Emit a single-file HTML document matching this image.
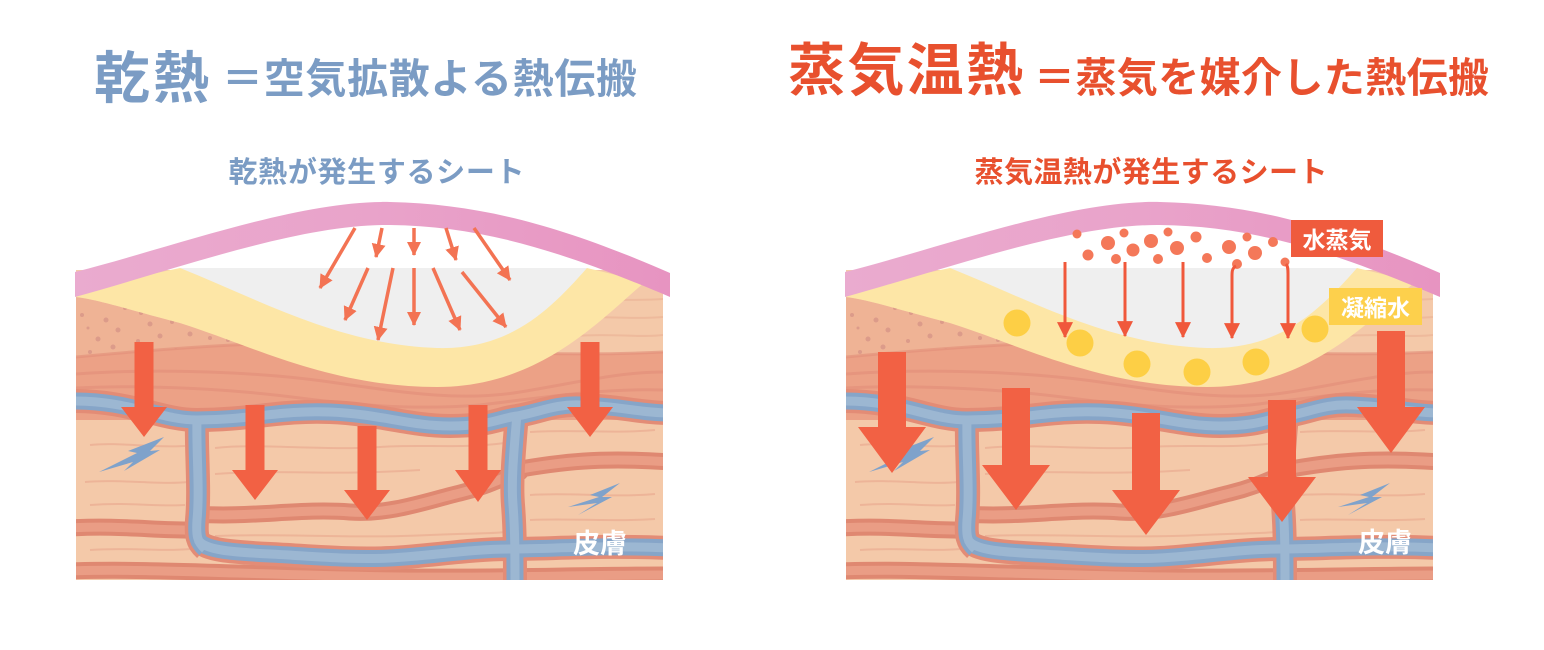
<!DOCTYPE html>
<html><head><meta charset="utf-8">
<style>
html,body{margin:0;padding:0;background:#fff;}
svg{display:block;}
text{font-family:"Liberation Sans","Noto Sans CJK JP",sans-serif;font-weight:700;}
</style></head>
<body>
<svg width="1544" height="650" viewBox="0 0 1544 650" xmlns="http://www.w3.org/2000/svg">
<defs>
  <linearGradient id="pk" x1="0" y1="0" x2="1" y2="0">
    <stop offset="0" stop-color="#eaabcf"/>
    <stop offset="0.5" stop-color="#e9a3ca"/>
    <stop offset="1" stop-color="#e794c1"/>
  </linearGradient>
  <marker id="ah" viewBox="0 0 14 14" refX="13" refY="7" markerWidth="14" markerHeight="14" markerUnits="userSpaceOnUse" orient="auto">
    <path d="M0,0 L14,7 L0,14 Z" fill="#f37353"/>
  </marker>
  <marker id="ah2" viewBox="0 0 14 14" refX="13" refY="7" markerWidth="16" markerHeight="16" markerUnits="userSpaceOnUse" orient="auto">
    <path d="M0,0 L14,7 L0,14 Z" fill="#f0583b"/>
  </marker>
  <clipPath id="skinclip"><rect x="76" y="260" width="587" height="320"/></clipPath>

  <g id="skin">
    <g clip-path="url(#skinclip)">
      <!-- base dermis -->
      <rect x="76" y="270" width="587" height="310" fill="#f4c9a9"/>
      <!-- upper right faint lines -->
      <g fill="none" stroke="#ecb597" stroke-width="2" opacity="0.7">
        <path d="M545 300 C580 297,620 302,663 299"/>
        <path d="M560 318 C600 315,630 320,663 317"/>
        <path d="M575 336 C610 333,640 338,663 335"/>
      </g>
      <!-- speckled area -->
      <path d="M76 297 C100 300,130 310,180 323 C215 334,245 342,285 352 L280 362 L76 362 Z" fill="#efb395"/>
      <g fill="#dc9b8a">
        <circle cx="82" cy="315" r="2"/><circle cx="106" cy="320" r="2.5"/><circle cx="125" cy="308" r="2"/>
        <circle cx="118" cy="330" r="2.5"/><circle cx="141" cy="313" r="2"/><circle cx="150" cy="324" r="2.5"/>
        <circle cx="98" cy="339" r="2.5"/><circle cx="90" cy="352" r="2"/><circle cx="113" cy="347" r="2.5"/>
        <circle cx="138" cy="341" r="2"/><circle cx="160" cy="336" r="2.5"/><circle cx="172" cy="322" r="2"/>
        <circle cx="190" cy="334" r="2.5"/><circle cx="200" cy="320" r="2"/><circle cx="210" cy="338" r="2"/>
        <circle cx="176" cy="350" r="2"/><circle cx="88" cy="328" r="1.5"/><circle cx="228" cy="340" r="2"/>
        <circle cx="240" cy="332" r="1.5"/><circle cx="128" cy="355" r="1.5"/>
      </g>
      <!-- epidermis band -->
      <path d="M76 357 C150 350,220 345,276 343 C400 340,500 360,663 352 L663 420 L76 420 Z" fill="#eca186"/>
      <g fill="none" stroke="#e3907a" stroke-width="3" opacity="0.65">
        <path d="M76 357 C150 350,220 345,276 343 C400 340,500 360,663 352"/>
        <path d="M76 374 C160 368,260 372,330 382 C400 392,460 402,520 392 C580 382,620 372,663 372"/>
        <path d="M76 388 C150 384,240 390,300 398 C360 406,420 410,480 405 C540 398,600 388,663 390"/>
      </g>
      <!-- lower dermis stripes -->
      <g fill="none" stroke-linecap="round">
        <g stroke="#df8871" stroke-width="17">
          <path d="M70 528 C120 525,160 531,200 530"/>
          <path d="M195 514 C250 518,300 508,350 512 C390 515,430 500,460 493 C490 486,505 476,520 472"/>
          <path d="M515 470 C560 462,600 457,670 462"/>
          <path d="M70 571 C150 568,250 575,400 577 C500 578,580 575,670 575"/>
        </g>
        <g stroke="#ea9d85" stroke-width="9">
          <path d="M70 528 C120 525,160 531,200 530"/>
          <path d="M195 514 C250 518,300 508,350 512 C390 515,430 500,460 493 C490 486,505 476,520 472"/>
          <path d="M515 470 C560 462,600 457,670 462"/>
          <path d="M70 571 C150 568,250 575,400 577 C500 578,580 575,670 575"/>
        </g>
      </g>
      <!-- faint lines -->
      <g fill="none" stroke="#ebae93" stroke-width="2" opacity="0.75">
        <path d="M90 445 C120 442,150 448,185 446"/>
        <path d="M85 482 C120 479,160 485,188 482"/>
        <path d="M90 505 C130 502,160 507,185 505"/>
        <path d="M90 550 C130 547,160 552,190 549"/>
        <path d="M215 448 C260 443,320 451,380 447 C420 444,460 449,505 443"/>
        <path d="M215 474 C280 469,330 476,420 470"/>
        <path d="M215 536 C280 533,350 539,430 535 C470 533,490 534,505 532"/>
        <path d="M530 432 C570 429,610 434,655 430"/>
        <path d="M530 495 C570 492,610 498,655 494"/>
        <path d="M530 520 C570 518,610 522,655 519"/>
      </g>
      <!-- vessels -->
      <g fill="none">
        <g stroke="#e38c76" stroke-width="24">
          <path d="M70 401 C130 400,160 420,197 420 C250 420,280 410,330 412 C380 414,410 426,450 426 C490 426,500 418,517 416 C540 412,555 404,580 405 C620 406,640 413,670 413"/>
          <path d="M197 418 C196 450,200 490,197 520 C196 535,197 542,205 549"/>
          <path d="M198 540 C205 550,230 552,270 554 C310 556,350 560,390 558 C430 556,470 549,510 549 C550 549,600 545,670 548"/>
          <path d="M517 414 C514 450,511 480,513 505 C515 530,515 555,515 590"/>
        </g>
        <g stroke="#86a5c8" stroke-width="17">
          <path d="M70 401 C130 400,160 420,197 420 C250 420,280 410,330 412 C380 414,410 426,450 426 C490 426,500 418,517 416 C540 412,555 404,580 405 C620 406,640 413,670 413"/>
          <path d="M197 418 C196 450,200 490,197 520 C196 535,197 542,205 549"/>
          <path d="M198 540 C205 550,230 552,270 554 C310 556,350 560,390 558 C430 556,470 549,510 549 C550 549,600 545,670 548"/>
          <path d="M517 414 C514 450,511 480,513 505 C515 530,515 555,515 590"/>
        </g>
        <g stroke="#9cb7d2" stroke-width="9">
          <path d="M70 401 C130 400,160 420,197 420 C250 420,280 410,330 412 C380 414,410 426,450 426 C490 426,500 418,517 416 C540 412,555 404,580 405 C620 406,640 413,670 413"/>
          <path d="M197 418 C196 450,200 490,197 520 C196 535,197 542,205 549"/>
          <path d="M198 540 C205 550,230 552,270 554 C310 556,350 560,390 558 C430 556,470 549,510 549 C550 549,600 545,670 548"/>
          <path d="M517 414 C514 450,511 480,513 505 C515 530,515 555,515 590"/>
        </g>
      </g>
      <!-- lightning -->
      <path d="M164 437 L128 451 L137 453 L99 472 L133 462 L124 471 L160 450 L150 451 Z" fill="#7fa2cb"/>
      <path d="M620 483 L590 495 L599 497 L568 507 L597 503 L578 515 L612 497 L602 497 Z" fill="#7fa2cb"/>
      <!-- yellow band -->
      <path d="M76 290 L180 268 L587 268 L645 282 C600 320,540 387,437 387 C330 387,250 345,180 323 C130 310,100 300,76 297 Z" fill="#fde6a6"/>
      <!-- grey pocket -->
      <path d="M180 268 L587 268 C550 310,510 350,437 348 C340 345,260 300,180 268 Z" fill="#efefef"/>
    </g>
    <!-- pink sheet -->
    <path d="M75 272 C180 245,300 200,390 202 C480 204,560 225,670 273 L670 297 C560 250,480 226,390 225 C300 224,180 268,75 297 Z" fill="url(#pk)"/>
  </g>
</defs>

<!-- Titles -->
<text x="94" y="98" font-size="56" fill="#7b9cc4" textLength="115" lengthAdjust="spacing">乾熱</text>
<text x="222" y="93" font-size="41" fill="#7b9cc4" textLength="415" lengthAdjust="spacing">＝空気拡散よる熱伝搬</text>
<text x="228.5" y="182" font-size="29" fill="#7b9cc4" textLength="296" lengthAdjust="spacing">乾熱が発生するシート</text>

<text x="788" y="90" font-size="57" fill="#e8502e" textLength="235" lengthAdjust="spacing">蒸気温熱</text>
<text x="1034" y="92" font-size="41" fill="#e8502e" textLength="455" lengthAdjust="spacing">＝蒸気を媒介した熱伝搬</text>
<text x="974.5" y="182" font-size="29" fill="#e8502e" textLength="353" lengthAdjust="spacing">蒸気温熱が発生するシート</text>

<!-- Left panel -->
<use href="#skin"/>
<g stroke="#f37353" stroke-width="3.5" marker-end="url(#ah)" fill="none">
  <line x1="355" y1="228" x2="320" y2="288"/>
  <line x1="382" y1="228" x2="376" y2="257"/>
  <line x1="414" y1="228" x2="414" y2="255"/>
  <line x1="446" y1="228" x2="456" y2="260"/>
  <line x1="474" y1="228" x2="510" y2="280"/>
  <line x1="368" y1="268" x2="345" y2="320"/>
  <line x1="393" y1="268" x2="378" y2="340"/>
  <line x1="414" y1="268" x2="414" y2="325"/>
  <line x1="433" y1="268" x2="460" y2="330"/>
  <line x1="462" y1="272" x2="506" y2="327"/>
</g>
<g fill="#f26144">
  <polygon points="134.5,342 153.5,342 153.5,407 167,407 144,437 121,407 134.5,407"/>
  <polygon points="245.5,405 264.5,405 264.5,470 278,470 255,500 232,470 245.5,470"/>
  <polygon points="357.5,426 376.5,426 376.5,490 390,490 367,520 344,490 357.5,490"/>
  <polygon points="468.5,405 487.5,405 487.5,470 501,470 478,502 455,470 468.5,470"/>
  <polygon points="580.5,342 599.5,342 599.5,407 613,407 590,437 567,407 580.5,407"/>
</g>
<text x="600" y="553" font-size="27" fill="#ffffff" text-anchor="middle">皮膚</text>

<!-- Right panel -->
<use href="#skin" transform="translate(770,0)"/>
<!-- steam dots -->
<g fill="#f47859">
  <circle cx="1077" cy="234" r="4.5"/><circle cx="1088" cy="255" r="5.5"/><circle cx="1108" cy="243" r="7"/>
  <circle cx="1124" cy="233" r="4.5"/><circle cx="1116" cy="259" r="5"/><circle cx="1133" cy="250" r="6.5"/>
  <circle cx="1151" cy="241" r="7"/><circle cx="1158" cy="259" r="5"/><circle cx="1168" cy="232" r="4.5"/>
  <circle cx="1177" cy="248" r="7"/><circle cx="1196" cy="237" r="5.5"/><circle cx="1207" cy="258" r="5"/>
  <circle cx="1229" cy="247" r="7"/><circle cx="1247" cy="237" r="4.5"/><circle cx="1255" cy="253" r="7"/>
  <circle cx="1237" cy="264" r="5"/><circle cx="1273" cy="242" r="5"/><circle cx="1285" cy="262" r="4.5"/>
</g>
<!-- condensed water -->
<g fill="#fdcf45">
  <circle cx="1017" cy="323" r="13.5"/><circle cx="1080" cy="343" r="13.5"/><circle cx="1137" cy="364" r="13.5"/>
  <circle cx="1197" cy="372" r="13.5"/><circle cx="1256" cy="362" r="13.5"/><circle cx="1315" cy="329" r="13.5"/>
</g>
<g stroke="#f0583b" stroke-width="3" marker-end="url(#ah2)" fill="none">
  <line x1="1065" y1="262" x2="1065" y2="337"/>
  <line x1="1125" y1="262" x2="1125" y2="336"/>
  <line x1="1183" y1="262" x2="1183" y2="337"/>
  <path d="M1236 266 C1232 268,1232 272,1232 276 L1232 338"/>
  <path d="M1286 264 C1288 266,1288 270,1288 274 L1288 338"/>
</g>
<g fill="#f26144">
  <polygon points="878,352 906,352 906,427 926,427 892,473 858,427 878,427"/>
  <polygon points="1002,388 1030,388 1030,465 1050,465 1016,510 982,465 1002,465"/>
  <polygon points="1132,413 1160,413 1160,490 1180,490 1146,535 1112,490 1132,490"/>
  <polygon points="1268,400 1296,400 1296,477 1316,477 1282,522 1248,477 1268,477"/>
  <polygon points="1377,331 1405,331 1405,407 1425,407 1391,453 1357,407 1377,407"/>
</g>
<rect x="1291" y="220" width="92" height="37" fill="#ef5b3d"/>
<text x="1337" y="248" font-size="23" fill="#ffffff" text-anchor="middle">水蒸気</text>
<rect x="1329" y="288" width="93" height="37" fill="#fdd04c"/>
<text x="1375.5" y="316" font-size="23" fill="#ffffff" text-anchor="middle">凝縮水</text>
<text x="1385" y="552" font-size="27" fill="#ffffff" text-anchor="middle">皮膚</text>
</svg>
</body></html>
